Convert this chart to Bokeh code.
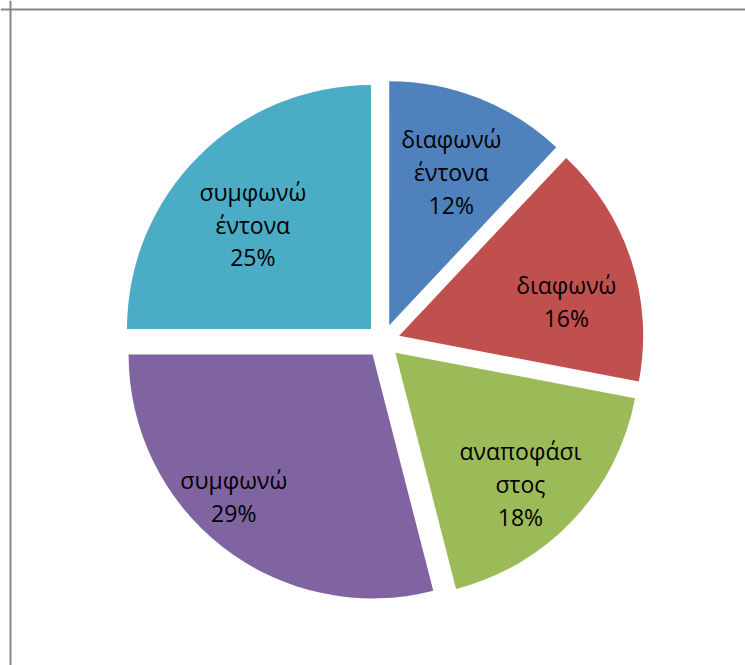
from math import radians, sin, cos
from bokeh.plotting import figure
from bokeh.models import Range1d, Span, ColumnDataSource
from bokeh.core.properties import value
from bokeh.embed import file_html
from bokeh.resources import INLINE

# ---- data ----
categories = ["διαφωνώ\nέντονα", "διαφωνώ", "αναποφάσι\nστος", "συμφωνώ", "συμφωνώ\nέντονα"]
percents = [12, 16, 18, 29, 25]
colors = ["#4F81BD", "#C0504D", "#9BBB59", "#8064A2", "#4BACC6"]

# ---- layout (pixels == data units) ----
W, H = 745, 665
CX, CY = 382.5, 324.5      # pie centre
R = 244                    # radius
EXPLODE = 17               # outward offset of each slice
# label placement relative to each slice's own centre: (distance, clockwise-from-top angle in degrees)
label_dist = [167, 171, 180, 197, 159]
label_ang = [21.8, 77.8, 136.0, 224.8, 312.0]

total = float(sum(percents))
xs, ys, starts, ends, lx, ly, texts = [], [], [], [], [], [], []
cum = 0.0
for i, v in enumerate(percents):
    t1 = cum / total * 360.0
    cum += v
    t2 = cum / total * 360.0
    tm = radians((t1 + t2) / 2.0)
    x0 = CX + EXPLODE * sin(tm)
    y0 = CY + EXPLODE * cos(tm)
    xs.append(x0)
    ys.append(y0)
    starts.append(radians(90.0 - t2))
    ends.append(radians(90.0 - t1))
    la = radians(label_ang[i])
    lx.append(x0 + label_dist[i] * sin(la))
    ly.append(y0 + label_dist[i] * cos(la) - 2)
    texts.append(f"{categories[i]}\n{v}%")

src = ColumnDataSource(dict(x=xs, y=ys, start=starts, end=ends, color=colors,
                            lx=lx, ly=ly, text=texts))

p = figure(width=W, height=H, output_backend="svg", toolbar_location=None,
           x_range=Range1d(0, W), y_range=Range1d(0, H),
           x_axis_type=None, y_axis_type=None, min_border=0,
           background_fill_color="white", border_fill_color="white")
p.outline_line_color = None
p.grid.visible = False

p.wedge(x="x", y="y", radius=R, start_angle="start", end_angle="end",
        direction="anticlock", fill_color="color", line_color=None, source=src)

p.text(x="lx", y="ly", text="text", source=src, text_align="center",
       text_baseline="middle", text_font=value("Open Sans"),
       text_font_size="23px", text_color="black", text_line_height=1.02)

# chart frame (only top and left edges fall inside the window)
p.add_layout(Span(location=H - 9, dimension="width", line_color="#868686", line_width=2))
p.add_layout(Span(location=10, dimension="height", line_color="#868686", line_width=2))

open("out.html", "w").write(file_html(p, INLINE))
